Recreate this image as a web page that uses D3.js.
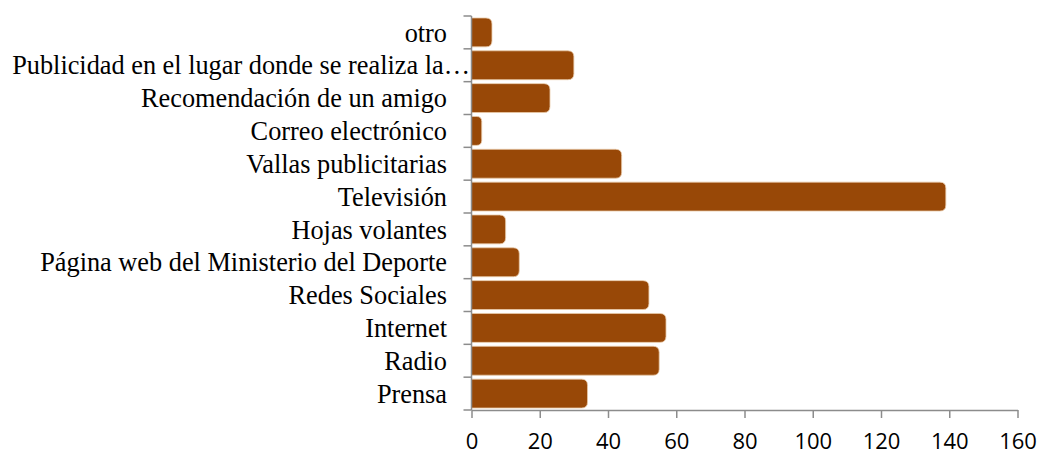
<!DOCTYPE html>
<html>
<head>
<meta charset="utf-8">
<script src="https://cdn.jsdelivr.net/npm/d3@7"></script>
<style>
  body { margin: 0; background: #fff; }
  svg { display: block; }
</style>
</head>
<body>
<div id="chart"></div>
<script>
// Categories listed bottom to top, as in the picture
const categories = [
  'Prensa', 'Radio', 'Internet', 'Redes Sociales',
  'Página web del Ministerio del Deporte', 'Hojas volantes', 'Televisión',
  'Vallas publicitarias', 'Correo electrónico', 'Recomendación de un amigo',
  'Publicidad en el lugar donde se realiza la…', 'otro'
];
const values = [34, 55, 57, 52, 14, 10, 139, 44, 3, 23, 30, 6];
const xTicks = [0, 20, 40, 60, 80, 100, 120, 140, 160];

(function() {
  const width = 1041, height = 454;
  const plotLeft = 471.5, plotRight = 1017.5, plotTop = 16, plotBottom = 410;
  const barColor = '#984807';
  const axisColor = '#8c8c8c';

  const svg = d3.select('#chart').append('svg')
    .attr('width', width)
    .attr('height', height);

  const x = d3.scaleLinear().domain([0, 160]).range([plotLeft, plotRight]);
  const y = d3.scaleBand()
    .domain(categories.slice().reverse())
    .range([plotTop, plotBottom])
    .paddingInner(0.12)
    .paddingOuter(0.06);

  // Bars: square on the axis side, rounded at the end
  const r = 6;
  svg.append('g')
    .selectAll('path')
    .data(categories.map((c, i) => ({ c, v: values[i] })))
    .join('path')
    .attr('d', d => {
      const x0 = x(0), x1 = x(d.v), y0 = y(d.c), h = y.bandwidth();
      const rr = Math.min(r, (x1 - x0) / 2);
      return `M${x0},${y0} H${x1 - rr} Q${x1},${y0} ${x1},${y0 + rr} ` +
        `V${y0 + h - rr} Q${x1},${y0 + h} ${x1 - rr},${y0 + h} H${x0} Z`;
    })
    .attr('fill', barColor)
    .attr('stroke', '#e9c9a8')
    .attr('stroke-width', 0.8);

  // X axis
  const xAxis = svg.append('g')
    .attr('transform', `translate(0,${plotBottom})`)
    .attr('font-size', 22)
    .attr('font-family', '"Open Sans", sans-serif')
    .call(d3.axisBottom(x).tickValues(xTicks).tickSize(8).tickSizeOuter(0).tickPadding(15));
  xAxis.select('.domain').attr('stroke', axisColor).attr('stroke-width', 1.5);
  xAxis.selectAll('.tick line').attr('stroke', axisColor).attr('stroke-width', 1.5);
  xAxis.selectAll('.tick text')
    .attr('fill', '#000')
    .attr('font-size', 22)
    .attr('font-family', '"Open Sans", sans-serif');

  // Y axis line and ticks between categories
  const yAxis = svg.append('g');
  yAxis.append('line')
    .attr('x1', plotLeft).attr('x2', plotLeft)
    .attr('y1', plotTop).attr('y2', plotBottom)
    .attr('stroke', axisColor).attr('stroke-width', 1.5);
  const yTickPos = d3.range(categories.length + 1)
    .map(i => plotTop + i * (plotBottom - plotTop) / categories.length);
  yAxis.selectAll('line.tk')
    .data(yTickPos)
    .join('line')
    .attr('class', 'tk')
    .attr('x1', plotLeft - 8).attr('x2', plotLeft)
    .attr('y1', d => d).attr('y2', d => d)
    .attr('stroke', axisColor).attr('stroke-width', 1.5);

  // Category labels
  svg.append('g')
    .selectAll('text')
    .data(categories)
    .join('text')
    .attr('x', d => d.endsWith('…') ? 470 : 447)
    .attr('y', d => y(d) + y.bandwidth() / 2)
    .attr('dy', '0.35em')
    .attr('text-anchor', 'end')
    .attr('font-family', '"Liberation Serif", serif')
    .attr('font-size', 26.3)
    .text(d => d);
})();
</script>
</body>
</html>
